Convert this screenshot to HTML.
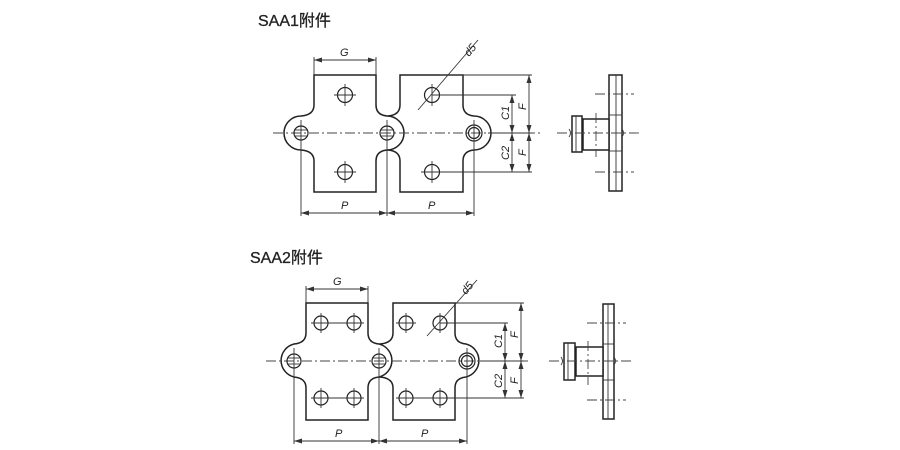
<!DOCTYPE html>
<html><head><meta charset="utf-8"><style>
html,body{margin:0;padding:0;background:#fff;}
svg{display:block;}
text{font-family:"Liberation Sans","Noto Sans CJK SC",sans-serif;fill:#222;}
.o{fill:#fff;stroke:#222;stroke-width:1.5;}
.l{stroke:#333;stroke-width:0.9;fill:none;}
.d{stroke:#444;stroke-width:0.9;fill:none;stroke-dasharray:10 3 2 3;}
.h{fill:none;stroke:#222;stroke-width:1.2;}
</style></head><body>
<svg width="900" height="450" viewBox="0 0 900 450" xmlns="http://www.w3.org/2000/svg">
<defs>
<marker id="a" markerWidth="8" markerHeight="6" refX="8" refY="3" orient="auto-start-reverse" markerUnits="userSpaceOnUse"><path d="M0,0.5 L8,3 L0,5.5 Z" fill="#333"/></marker>
</defs>
<text x="258" y="26" font-size="16" stroke="#222" stroke-width="0.3">SAA1附件</text>
<text x="250" y="263" font-size="16" stroke="#222" stroke-width="0.3">SAA2附件</text>

<!-- SAA1 -->
<g>
<path class="o" d="M400,75 H463 V105 Q463,115 474,116 A17,17 0 0 1 474,150 Q463,151 463,161 V192 H400 V161 Q400,151 388,150 A17,17 0 0 1 388,116 Q400,115 400,105 Z"/>
<path class="o" d="M314,75 H376 V105 Q376,115 387,116 A17,17 0 0 1 387,150 Q376,151 376,161 V192 H314 V161 Q314,151 301,150 A17,17 0 0 1 301,116 Q314,115 314,105 Z"/>
<line class="d" x1="273" y1="133" x2="540" y2="133"/>
<circle class="h" cx="301" cy="133" r="7"/><line class="l" x1="294" y1="130" x2="308" y2="130"/><line class="l" x1="294" y1="136" x2="308" y2="136"/>
<circle class="h" cx="387" cy="133" r="7"/><line class="l" x1="380" y1="130" x2="394" y2="130"/><line class="l" x1="380" y1="136" x2="394" y2="136"/>
<circle class="h" cx="474" cy="133" r="8"/><circle class="h" cx="474" cy="133" r="5.5"/>
<g class="h">
<circle cx="345" cy="95" r="7.5"/><circle cx="345" cy="172" r="7.5"/>
<circle cx="432" cy="95" r="7.5"/><circle cx="432" cy="172" r="7.5"/>
</g>
<g class="l">
<line x1="334" y1="95" x2="356" y2="95"/><line x1="345" y1="84" x2="345" y2="106"/>
<line x1="334" y1="172" x2="356" y2="172"/><line x1="345" y1="161" x2="345" y2="183"/>
<line x1="421" y1="172" x2="443" y2="172"/><line x1="432" y1="161" x2="432" y2="183"/>
<line x1="432" y1="84" x2="432" y2="106"/>
<line x1="301" y1="120" x2="301" y2="216"/><line x1="387" y1="120" x2="387" y2="216"/><line x1="474" y1="120" x2="474" y2="216"/>
<line x1="314" y1="75" x2="314" y2="57"/><line x1="376" y1="75" x2="376" y2="57"/>
<line x1="440" y1="75" x2="532" y2="75"/><line x1="432" y1="95" x2="516" y2="95"/><line x1="432" y1="172" x2="532" y2="172"/>
<line x1="488" y1="133" x2="532" y2="133"/>
<line x1="418" y1="110" x2="478" y2="40"/>
</g>
<line class="l" x1="314" y1="60" x2="376" y2="60" marker-start="url(#a)" marker-end="url(#a)"/>
<line class="l" x1="301" y1="213" x2="387" y2="213" marker-start="url(#a)" marker-end="url(#a)"/>
<line class="l" x1="387" y1="213" x2="474" y2="213" marker-start="url(#a)" marker-end="url(#a)"/>
<line class="l" x1="529" y1="75" x2="529" y2="133" marker-start="url(#a)" marker-end="url(#a)"/>
<line class="l" x1="529" y1="133" x2="529" y2="172" marker-start="url(#a)" marker-end="url(#a)"/>
<line class="l" x1="512" y1="95" x2="512" y2="133" marker-start="url(#a)" marker-end="url(#a)"/>
<line class="l" x1="512" y1="133" x2="512" y2="172" marker-start="url(#a)" marker-end="url(#a)"/>
<text x="340" y="56" font-size="11" font-style="italic">G</text>
<text x="341" y="209" font-size="11" font-style="italic">P</text>
<text x="428" y="209" font-size="11" font-style="italic">P</text>
<text transform="translate(469,57) rotate(-50)" font-size="11" font-style="italic">d5</text>
<text transform="translate(526,110) rotate(-90)" font-size="11" font-style="italic">F</text>
<text transform="translate(526,156) rotate(-90)" font-size="11" font-style="italic">F</text>
<text transform="translate(509,120) rotate(-90)" font-size="11" font-style="italic">C1</text>
<text transform="translate(509,160) rotate(-90)" font-size="11" font-style="italic">C2</text>
<!-- side view -->
<rect class="o" x="609" y="75" width="13" height="116"/>
<line class="l" x1="616" y1="75" x2="616" y2="191"/>
<line class="l" x1="609" y1="115" x2="622" y2="115"/><line class="l" x1="609" y1="151" x2="622" y2="151"/>
<rect class="o" x="583" y="119" width="26" height="31"/>
<rect class="o" x="572" y="116" width="10" height="36"/>
<line class="l" x1="576" y1="116" x2="576" y2="152"/>
<path class="l" d="M569,129 q3,4 0,8 M622,129 q3,4 0,8"/>
<line class="d" x1="595" y1="94" x2="634" y2="94"/><line class="d" x1="595" y1="172" x2="634" y2="172"/>
<line class="d" x1="557" y1="133" x2="640" y2="133"/><line class="d" x1="596" y1="113" x2="596" y2="157"/>
</g>

<!-- SAA2 -->
<g>
<path class="o" d="M393,303 H455 V333 Q455,343 466,344 A17,17 0 0 1 466,377 Q455,378 455,388 V420 H393 V388 Q393,378 380,377 A17,17 0 0 1 380,344 Q393,343 393,333 Z"/>
<path class="o" d="M306,303 H368 V333 Q368,343 379,344 A17,17 0 0 1 379,377 Q368,378 368,388 V420 H306 V388 Q306,378 294,377 A17,17 0 0 1 294,344 Q306,343 306,333 Z"/>
<line class="d" x1="266" y1="361" x2="530" y2="361"/>
<circle class="h" cx="294" cy="361" r="7"/><line class="l" x1="287" y1="358" x2="301" y2="358"/><line class="l" x1="287" y1="364" x2="301" y2="364"/>
<circle class="h" cx="379" cy="361" r="7"/><line class="l" x1="372" y1="358" x2="386" y2="358"/><line class="l" x1="372" y1="364" x2="386" y2="364"/>
<circle class="h" cx="467" cy="361" r="8"/><circle class="h" cx="467" cy="361" r="5.5"/>
<g class="h">
<circle cx="321" cy="323" r="7"/><circle cx="354" cy="323" r="7"/><circle cx="406" cy="323" r="7"/><circle cx="440" cy="323" r="7"/>
<circle cx="321" cy="398" r="7"/><circle cx="354" cy="398" r="7"/><circle cx="406" cy="398" r="7"/><circle cx="440" cy="398" r="7"/>
</g>
<g class="l">
<line x1="311" y1="323" x2="364" y2="323"/><line x1="396" y1="323" x2="416" y2="323"/>
<line x1="311" y1="398" x2="364" y2="398"/><line x1="396" y1="398" x2="450" y2="398"/>
<line x1="321" y1="313" x2="321" y2="333"/><line x1="354" y1="313" x2="354" y2="333"/><line x1="406" y1="313" x2="406" y2="333"/><line x1="440" y1="313" x2="440" y2="333"/>
<line x1="321" y1="388" x2="321" y2="408"/><line x1="354" y1="388" x2="354" y2="408"/><line x1="406" y1="388" x2="406" y2="408"/><line x1="440" y1="388" x2="440" y2="408"/>
<line x1="294" y1="348" x2="294" y2="444"/><line x1="379" y1="348" x2="379" y2="444"/><line x1="467" y1="348" x2="467" y2="444"/>
<line x1="306" y1="303" x2="306" y2="286"/><line x1="368" y1="303" x2="368" y2="286"/>
<line x1="440" y1="303" x2="524" y2="303"/><line x1="440" y1="323" x2="508" y2="323"/><line x1="440" y1="398" x2="524" y2="398"/>
<line x1="480" y1="361" x2="524" y2="361"/>
<line x1="427" y1="336" x2="477" y2="280"/>
</g>
<line class="l" x1="306" y1="289" x2="368" y2="289" marker-start="url(#a)" marker-end="url(#a)"/>
<line class="l" x1="294" y1="441" x2="379" y2="441" marker-start="url(#a)" marker-end="url(#a)"/>
<line class="l" x1="379" y1="441" x2="467" y2="441" marker-start="url(#a)" marker-end="url(#a)"/>
<line class="l" x1="521" y1="303" x2="521" y2="361" marker-start="url(#a)" marker-end="url(#a)"/>
<line class="l" x1="521" y1="361" x2="521" y2="398" marker-start="url(#a)" marker-end="url(#a)"/>
<line class="l" x1="505" y1="323" x2="505" y2="361" marker-start="url(#a)" marker-end="url(#a)"/>
<line class="l" x1="505" y1="361" x2="505" y2="398" marker-start="url(#a)" marker-end="url(#a)"/>
<text x="333" y="285" font-size="11" font-style="italic">G</text>
<text x="335" y="437" font-size="11" font-style="italic">P</text>
<text x="421" y="437" font-size="11" font-style="italic">P</text>
<text transform="translate(466,295) rotate(-50)" font-size="11" font-style="italic">d5</text>
<text transform="translate(518,338) rotate(-90)" font-size="11" font-style="italic">F</text>
<text transform="translate(518,384) rotate(-90)" font-size="11" font-style="italic">F</text>
<text transform="translate(502,348) rotate(-90)" font-size="11" font-style="italic">C1</text>
<text transform="translate(502,388) rotate(-90)" font-size="11" font-style="italic">C2</text>
<rect class="o" x="603" y="304" width="11" height="115"/>
<line class="l" x1="608" y1="304" x2="608" y2="419"/>
<line class="l" x1="603" y1="344" x2="614" y2="344"/><line class="l" x1="603" y1="380" x2="614" y2="380"/>
<rect class="o" x="576" y="347" width="27" height="29"/>
<rect class="o" x="564" y="343" width="11" height="37"/>
<line class="l" x1="568" y1="343" x2="568" y2="380"/>
<path class="l" d="M561,357 q3,4 0,8 M614,357 q3,4 0,8"/>
<line class="d" x1="587" y1="323" x2="626" y2="323"/><line class="d" x1="587" y1="400" x2="626" y2="400"/>
<line class="d" x1="549" y1="361" x2="632" y2="361"/><line class="d" x1="588" y1="341" x2="588" y2="385"/>
</g>
</svg>
</body></html>
